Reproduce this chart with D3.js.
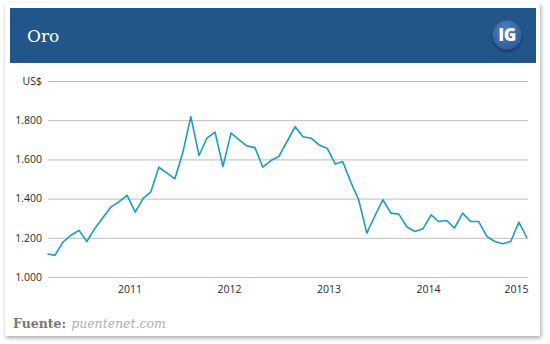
<!DOCTYPE html>
<html>
<head>
<meta charset="utf-8">
<script src="https://cdn.jsdelivr.net/npm/d3@7"></script>
<style>
  html, body { margin: 0; padding: 0; background: #ffffff; }
  svg { display: block; }
</style>
</head>
<body>
<svg id="chart" width="550" height="344"></svg>
<script>
// Monthly gold price (US$ per ounce), month-end, Feb 2010 – Feb 2015
const months = [
  "2010-02","2010-03","2010-04","2010-05","2010-06","2010-07","2010-08","2010-09","2010-10","2010-11","2010-12",
  "2011-01","2011-02","2011-03","2011-04","2011-05","2011-06","2011-07","2011-08","2011-09","2011-10","2011-11","2011-12",
  "2012-01","2012-02","2012-03","2012-04","2012-05","2012-06","2012-07","2012-08","2012-09","2012-10","2012-11","2012-12",
  "2013-01","2013-02","2013-03","2013-04","2013-05","2013-06","2013-07","2013-08","2013-09","2013-10","2013-11","2013-12",
  "2014-01","2014-02","2014-03","2014-04","2014-05","2014-06","2014-07","2014-08","2014-09","2014-10","2014-11","2014-12",
  "2015-01","2015-02"
];
const prices = [
  1119, 1110, 1178, 1213, 1238, 1181, 1249, 1305, 1358, 1384, 1417,
  1331, 1402, 1433, 1560, 1531, 1501, 1633, 1818, 1620, 1708, 1739, 1564,
  1734, 1700, 1669, 1660, 1560, 1594, 1615, 1690, 1767, 1716, 1708, 1674,
  1657, 1576, 1589, 1484, 1394, 1224, 1310, 1394, 1326, 1321, 1255, 1232,
  1246, 1317, 1283, 1288, 1250, 1326, 1283, 1283, 1207, 1181, 1170, 1181,
  1280, 1199
];
const yTicks = [1000, 1200, 1400, 1600, 1800, 2000];
const yearLabels = [2011, 2012, 2013, 2014, 2015];
const titleText = "Oro";
const unitText = "US$";
const sourceLabel = "Fuente:";
const sourceName = "puentenet.com";

const parseMonth = d3.timeParse("%Y-%m");
const data = months.map((m, i) => ({ date: parseMonth(m), value: prices[i] }));

const locale = d3.formatLocale({ decimal: ",", thousands: ".", grouping: [3], currency: ["US$", ""] });
const fmt = locale.format(",");

const svg = d3.select("#chart");

// Card with soft drop shadow
const defs = svg.append("defs");
const shadow = defs.append("filter").attr("id", "cardShadow")
  .attr("x", "-5%").attr("y", "-5%").attr("width", "110%").attr("height", "112%");
shadow.append("feDropShadow").attr("dx", 1).attr("dy", 2).attr("stdDeviation", 2)
  .attr("flood-color", "#000").attr("flood-opacity", 0.35);

const badgeGrad = defs.append("radialGradient").attr("id", "badgeGrad")
  .attr("cx", "45%").attr("cy", "35%").attr("r", "70%");
badgeGrad.append("stop").attr("offset", "0%").attr("stop-color", "#4f80be");
badgeGrad.append("stop").attr("offset", "100%").attr("stop-color", "#2c5b96");

const badgeShadow = defs.append("filter").attr("id", "badgeShadow")
  .attr("x", "-30%").attr("y", "-30%").attr("width", "160%").attr("height", "170%");
badgeShadow.append("feDropShadow").attr("dx", 0).attr("dy", 2).attr("stdDeviation", 1.5)
  .attr("flood-color", "#0b2340").attr("flood-opacity", 0.6);

svg.append("rect")
  .attr("x", 5).attr("y", 3).attr("width", 535).attr("height", 333)
  .attr("fill", "#ffffff")
  .attr("filter", "url(#cardShadow)");

// Header band
svg.append("rect")
  .attr("x", 10).attr("y", 8).attr("width", 526).attr("height", 55)
  .attr("fill", "#22568a");

svg.append("text")
  .attr("x", 27).attr("y", 42)
  .attr("fill", "#ffffff")
  .attr("font-family", "'DejaVu Serif', serif")
  .attr("font-size", 17)
  .text(titleText);

const badge = svg.append("g").attr("transform", "translate(507,35)");
badge.append("circle").attr("r", 14.5).attr("fill", "url(#badgeGrad)").attr("filter", "url(#badgeShadow)");
badge.append("text")
  .attr("text-anchor", "middle").attr("y", 6)
  .attr("fill", "#ffffff")
  .attr("font-family", "'Open Sans', Arial, sans-serif")
  .attr("font-weight", 800)
  .attr("font-size", 17)
  .attr("letter-spacing", -0.5)
  .text("IG");

// Scales
const x = d3.scaleTime()
  .domain(d3.extent(data, d => d.date))
  .range([47.5, 527]);
const y = d3.scaleLinear()
  .domain([1000, 2000])
  .range([277, 81]);
const xLabel = d3.scaleLinear()
  .domain([2011, 2015])
  .range([129.5, 527.5]);

// Horizontal gridlines with value labels
const yAxis = svg.append("g")
  .attr("transform", "translate(48,0)")
  .call(d3.axisLeft(y)
    .tickValues(yTicks)
    .tickSize(-480)
    .tickPadding(6)
    .tickFormat(d => d === 2000 ? unitText : fmt(d)));
yAxis.select(".domain").remove();
yAxis.selectAll(".tick line").attr("stroke", "#bdbdbd").attr("stroke-width", 1);
yAxis.selectAll(".tick text")
  .attr("fill", "#2a2a2a")
  .attr("font-family", "'Open Sans', sans-serif")
  .attr("font-size", 10.5);

// Year labels
const xAxis = svg.append("g")
  .attr("transform", "translate(0,278)")
  .call(d3.axisBottom(xLabel)
    .tickValues(yearLabels)
    .tickSize(0)
    .tickPadding(8)
    .tickFormat(d3.format("d")));
xAxis.select(".domain").remove();
xAxis.selectAll(".tick text")
  .attr("fill", "#2a2a2a")
  .attr("font-family", "'Open Sans', sans-serif")
  .attr("font-size", 10.5);
xAxis.selectAll(".tick").filter(d => d === 2015)
  .select("text").attr("text-anchor", "end").attr("x", 0.5);

// Price line
svg.append("path")
  .datum(data)
  .attr("fill", "none")
  .attr("stroke", "#1b9bc7")
  .attr("stroke-width", 1.6)
  .attr("stroke-linejoin", "round")
  .attr("d", d3.line().x(d => x(d.date)).y(d => y(d.value)));

// Source note
const src = svg.append("text")
  .attr("x", 13).attr("y", 328)
  .attr("font-family", "'DejaVu Serif', serif")
  .attr("font-size", 12.5);
src.append("tspan").attr("fill", "#777777").attr("font-weight", "bold").text(sourceLabel);
src.append("tspan").attr("fill", "#b0b0b0").attr("font-style", "italic").attr("dx", 5).text(sourceName);
</script>
</body>
</html>
